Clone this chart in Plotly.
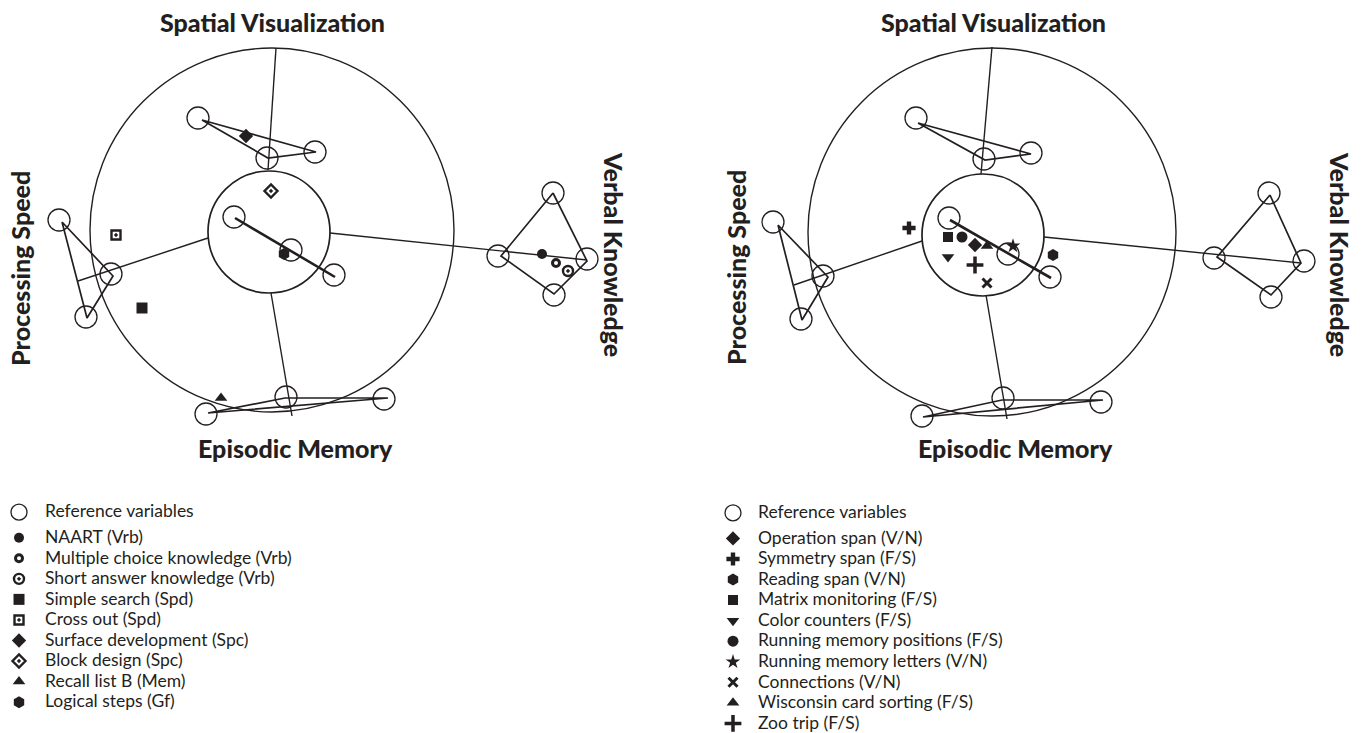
import plotly.graph_objects as go

# ---------------- DATA (coordinates relative to the inner-ring centre, y up) ----------------
# Left panel: cognitive reference battery
L_RING_CX = [3, 0]
L_RING_CY = [2, 0]
L_RING_R = [182, 61]

L_REF_X = [-71, -2, 46, -210, -158, -183, 284, 229, 318, 285, -63, 17, 115, -35, 22, 65]
L_REF_Y = [114, 74, 80, 12, -42, -85, 39, -24, -27, -63, -182, -165, -167, 15, -18, -43]

L_SPC_X = [-67, -1, 47]
L_SPC_Y = [112, 74, 80]
L_SPD_X = [-207, -156, -182]
L_SPD_Y = [10, -44, -86]
L_VRB_X = [284, 318, 285, 232]
L_VRB_Y = [39, -29, -62, -24]
L_MEM_X = [-61, 16, 119]
L_MEM_Y = [-181, -166, -166]
L_CTR_X = [-34, 66]
L_CTR_Y = [14, -45]

L_AXIS_X0 = [-1, -61, 61, 2]
L_AXIS_Y0 = [62, -6, -1, -61]
L_AXIS_X1 = [7, -191, 318, 23]
L_AXIS_Y1 = [184, -49, -28, -184]

L_TEST_NAMES = ["NAART (Vrb)", "Multiple choice knowledge (Vrb)", "Short answer knowledge (Vrb)",
                "Simple search (Spd)", "Cross out (Spd)", "Surface development (Spc)",
                "Block design (Spc)", "Recall list B (Mem)", "Logical steps (Gf)"]
L_TEST_X = [273, 287, 299, -127, -153, -23, 2, -48, 15]
L_TEST_Y = [-22, -31, -39, -76, -3, 96, 41, -166, -22]

# Right panel: working-memory / executive tasks
R_RING_CX = [9, 0]
R_RING_CY = [3, 0]
R_RING_R = [184, 61]

R_REF_X = [-67, 1, 48, -210, -160, -182, 286, 231, 321, 288, -61, 20, 118, -34, 25, 67]
R_REF_Y = [117, 76, 82, 13, -41, -84, 42, -23, -26, -62, -181, -163, -167, 17, -19, -42]

R_SPC_X = [-65, 2, 48]
R_SPC_Y = [112, 75, 81]
R_SPD_X = [-205, -155, -181]
R_SPD_Y = [10, -42, -85]
R_VRB_X = [287, 318, 288, 234]
R_VRB_Y = [40, -28, -60, -22]
R_MEM_X = [-60, 19, 120]
R_MEM_Y = [-182, -165, -165]
R_CTR_X = [-33, 68]
R_CTR_Y = [15, -43]

R_AXIS_X0 = [-2, -61, 61, 3]
R_AXIS_Y0 = [61, -6, -2, -60]
R_AXIS_X1 = [9, -189, 318, 24]
R_AXIS_Y1 = [188, -50, -28, -184]

R_TEST_NAMES = ["Operation span (V/N)", "Symmetry span (F/S)", "Reading span (V/N)",
                "Matrix monitoring (F/S)", "Color counters (F/S)", "Running memory positions (F/S)",
                "Running memory letters (V/N)", "Connections (V/N)", "Wisconsin card sorting (F/S)",
                "Zoo trip (F/S)"]
R_TEST_X = [-8, -74, 70, -35, -35, -21, 30, 4, 4, -8]
R_TEST_Y = [-10, 7, -20, -2, -22, -2, -11, -48, -11, -30]

FACTOR_TITLES = ["Spatial Visualization", "Processing Speed", "Verbal Knowledge", "Episodic Memory"]

# ---------------- STYLES ----------------
INK = "#231f20"
# (symbol, size, line width, line colour)
L_STYLES = [
    ("circle", 10, 0, INK),
    ("circle-open", 7, 3, INK),
    ("circle-open-dot", 10, 2.4, INK),
    ("square", 11, 0, INK),
    ("square-open-dot", 9, 2.4, INK),
    ("diamond", 11, 0, INK),
    ("diamond-open-dot", 10, 2.4, INK),
    ("triangle-up", 11, 0, INK),
    ("hexagon", 12, 0, INK),
]
R_STYLES = [
    ("diamond", 11, 0, INK),
    ("cross", 11, 0, INK),
    ("hexagon", 12, 0, INK),
    ("square", 10, 0, INK),
    ("triangle-down", 11, 0, INK),
    ("circle", 11, 0, INK),
    ("star", 11, 0, INK),
    ("x-thin", 9, 3, INK),
    ("triangle-up", 11, 0, INK),
    ("cross-thin", 12, 3.5, INK),
]


def legend_label(s):
    return '<span style="font-size:17.5px">' + s + "</span>"


fig = go.Figure()
shapes = []


def add_panel(xa, ya, legend, ring_cx, ring_cy, ring_r, ref_x, ref_y, polys, ctr, axes,
              names, tx, ty, styles):
    # rings
    for cx, cy, r, w in zip(ring_cx, ring_cy, ring_r, [1.4, 1.7]):
        shapes.append(dict(type="circle", xref=xa, yref=ya, x0=cx - r, x1=cx + r,
                           y0=cy - r, y1=cy + r, line=dict(color=INK, width=w),
                           fillcolor="rgba(0,0,0,0)", layer="below"))
    # factor polygons
    for px, py in polys:
        fig.add_trace(go.Scatter(x=px + px[:1], y=py + py[:1], mode="lines", xaxis=xa, yaxis=ya,
                                 line=dict(color=INK, width=1.7), showlegend=False,
                                 hoverinfo="skip"))
    # central line
    fig.add_trace(go.Scatter(x=ctr[0], y=ctr[1], mode="lines", xaxis=xa, yaxis=ya,
                             line=dict(color=INK, width=2.6), showlegend=False, hoverinfo="skip"))
    # factor axes
    ax0, ay0, ax1, ay1 = axes
    for a, b, c, d in zip(ax0, ay0, ax1, ay1):
        fig.add_trace(go.Scatter(x=[a, c], y=[b, d], mode="lines", xaxis=xa, yaxis=ya,
                                 line=dict(color=INK, width=1.4), showlegend=False,
                                 hoverinfo="skip"))
    # reference variables
    fig.add_trace(go.Scatter(x=ref_x, y=ref_y, mode="markers", xaxis=xa, yaxis=ya,
                             name=legend_label("Reference variables"), legend=legend,
                             legendgroup="ref",
                             marker=dict(symbol="circle-open", size=22, color=INK,
                                         line=dict(width=1.3, color=INK))))
    # tests
    for n, x, y, (sym, sz, lw, lc) in zip(names, tx, ty, styles):
        fig.add_trace(go.Scatter(x=[x], y=[y], mode="markers", xaxis=xa, yaxis=ya,
                                 name=legend_label(n), legend=legend, legendgroup="tests",
                                 marker=dict(symbol=sym, size=sz, color=INK,
                                             line=dict(width=lw, color=lc))))


add_panel("x", "y", "legend", L_RING_CX, L_RING_CY, L_RING_R, L_REF_X, L_REF_Y,
          [(L_SPC_X, L_SPC_Y), (L_SPD_X, L_SPD_Y), (L_VRB_X, L_VRB_Y), (L_MEM_X, L_MEM_Y)],
          (L_CTR_X, L_CTR_Y), (L_AXIS_X0, L_AXIS_Y0, L_AXIS_X1, L_AXIS_Y1),
          L_TEST_NAMES, L_TEST_X, L_TEST_Y, L_STYLES)
add_panel("x2", "y2", "legend2", R_RING_CX, R_RING_CY, R_RING_R, R_REF_X, R_REF_Y,
          [(R_SPC_X, R_SPC_Y), (R_SPD_X, R_SPD_Y), (R_VRB_X, R_VRB_Y), (R_MEM_X, R_MEM_Y)],
          (R_CTR_X, R_CTR_Y), (R_AXIS_X0, R_AXIS_Y0, R_AXIS_X1, R_AXIS_Y1),
          R_TEST_NAMES, R_TEST_X, R_TEST_Y, R_STYLES)

title_font = dict(family="Lato", size=25, color=INK, weight=900)
annotations = []
for xa, ya, pos in [("x", "y", [(3, 210, 0), (-249, -37, -90), (345, -22, 90), (26, -216, 0)]),
                    ("x2", "y2", [(10, 213, 0), (-247, -33, -90), (357, -19, 90), (32, -213, 0)])]:
    for t, (ax, ay, ang) in zip(FACTOR_TITLES, pos):
        annotations.append(dict(text=t, x=ax, y=ay, xref=xa, yref=ya, showarrow=False,
                                textangle=ang, font=title_font, xanchor="center",
                                yanchor="middle"))

axis_off = dict(visible=False, showgrid=False, zeroline=False, fixedrange=True)
leg_common = dict(font=dict(family="Lato", size=13.5, color=INK), bgcolor="rgba(0,0,0,0)",
                  borderwidth=0, tracegroupgap=5, itemsizing="trace", itemclick=False,
                  itemdoubleclick=False, xanchor="left", yanchor="top")
fig.update_layout(
    width=1361, height=733, margin=dict(l=0, r=0, t=0, b=0, autoexpand=False),
    paper_bgcolor="white", plot_bgcolor="white",
    xaxis=dict(domain=[0, 0.5], range=[-269, 411.5], **axis_off),
    yaxis=dict(domain=[0, 1], range=[-501, 232], anchor="x", **axis_off),
    xaxis2=dict(domain=[0.5, 1], range=[-302.5, 378], anchor="y2", **axis_off),
    yaxis2=dict(domain=[0, 1], range=[-498, 235], anchor="x2", **axis_off),
    shapes=shapes, annotations=annotations, showlegend=True,
    legend=dict(x=-0.00514, y=0.3221, itemwidth=42, **leg_common),
    legend2=dict(x=0.5202, y=0.3211, itemwidth=40, **leg_common),
)

fig.write_html("out.html", config={"displayModeBar": False},
               post_script="document.body.style.margin='0';document.body.style.overflow='hidden';")
